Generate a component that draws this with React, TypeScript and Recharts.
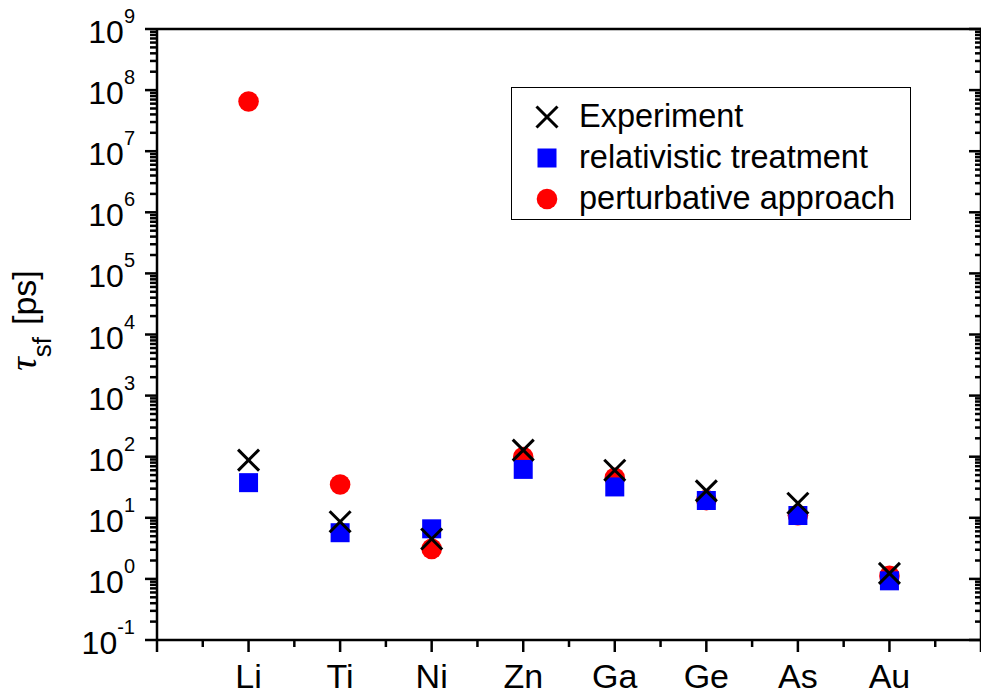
import React from "react";
import {
  ScatterChart,
  Scatter,
  XAxis,
  YAxis,
  Legend,
} from "recharts";

// element positions along x: 1..8
const ELEMENTS = ["Li", "Ti", "Ni", "Zn", "Ga", "Ge", "As", "Au"];
// spin-flip time, ps
const EXPERIMENT = [88, 8.6, 4.5, 128, 60, 27.6, 17.3, 1.23];
const RELATIVISTIC = [37.6, 5.7, 6.6, 62, 32, 19.2, 10.9, 0.93];
const PERTURBATIVE = [6.5e7, 35, 3.1, 99, 45, 19.5, 11, 1.12];

const X_TICKS = [0, 0.5, 1, 1.5, 2, 2.5, 3, 3.5, 4, 4.5, 5, 5.5, 6, 6.5, 7, 7.5, 8, 8.5, 9];
const Y_DECADES = [-1, 0, 1, 2, 3, 4, 5, 6, 7, 8, 9];
const Y_TICKS = Y_DECADES.flatMap((e) =>
  e === 9 ? [1e9] : [1, 2, 3, 4, 5, 6, 7, 8, 9].map((m) => Number((m * Math.pow(10, e)).toPrecision(3)))
);

const FONT = '"Liberation Sans", Arial, sans-serif';
const BLUE = "#0000ff";
const RED = "#ff0000";

const toPoints = (vals: number[]) => vals.map((v, i) => ({ x: i + 1, y: v, name: ELEMENTS[i] }));

const isMajorY = (v: number) => {
  const l = Math.log10(v);
  return Math.abs(l - Math.round(l)) < 1e-6;
};
const isMajorX = (v: number) => Math.abs(v - Math.round(v)) < 1e-6;

function CrossShape(props: any) {
  const { cx, cy } = props;
  const d = 10.5;
  return (
    <g stroke="#000" strokeWidth={3}>
      <line x1={cx - d} y1={cy - d} x2={cx + d} y2={cy + d} />
      <line x1={cx - d} y1={cy + d} x2={cx + d} y2={cy - d} />
    </g>
  );
}

function SquareShape(props: any) {
  const { cx, cy } = props;
  return <rect x={cx - 9.5} y={cy - 9.5} width={19} height={19} fill={BLUE} />;
}

function CircleShape(props: any) {
  const { cx, cy } = props;
  return <circle cx={cx} cy={cy} r={10.3} fill={RED} />;
}

function LeftTick(props: any) {
  const { x, y, payload } = props;
  const major = isMajorY(payload.value);
  const len = major ? 12 : 7;
  return (
    <g>
      <line x1={x} y1={y} x2={x - len} y2={y} stroke="#000" strokeWidth={2.5} />
      {major && (
        <text x={x - 22} y={y + 14} textAnchor="end" fontFamily={FONT} fontSize={32} fill="#000">
          10
          <tspan dy={-20} fontSize={20}>
            {Math.round(Math.log10(payload.value))}
          </tspan>
        </text>
      )}
    </g>
  );
}

function RightTick(props: any) {
  const { x, y, payload } = props;
  const len = isMajorY(payload.value) ? 12 : 6;
  return <line x1={x} y1={y} x2={x - len} y2={y} stroke="#000" strokeWidth={2.5} />;
}

function BottomTick(props: any) {
  const { x, y, payload } = props;
  const major = isMajorX(payload.value);
  const label = major ? ELEMENTS[Math.round(payload.value) - 1] : undefined;
  return (
    <g>
      <line x1={x} y1={y} x2={x} y2={y + (major ? 12 : 7)} stroke="#000" strokeWidth={2.5} />
      {label && (
        <text x={x} y={y + 48} textAnchor="middle" fontFamily={FONT} fontSize={34} fill="#000">
          {label}
        </text>
      )}
    </g>
  );
}

function TopTick(props: any) {
  const { x, y, payload } = props;
  const len = isMajorX(payload.value) ? 13 : 7;
  return <line x1={x} y1={y} x2={x} y2={y + len} stroke="#000" strokeWidth={2.5} />;
}

function YLabel(props: any) {
  const vb = props.viewBox || {};
  const cx = vb.x + 36;
  const cy = vb.y + vb.height / 2 - 14;
  return (
    <text
      x={cx}
      y={cy}
      transform={`rotate(-90, ${cx}, ${cy})`}
      textAnchor="middle"
      fontFamily={FONT}
      fontSize={34}
      fill="#000"
    >
      <tspan fontFamily='"Liberation Serif", serif' fontStyle="italic" fontSize={38}>
        τ
      </tspan>
      <tspan fontSize={26} dy={15}>
        sf
      </tspan>
      <tspan dy={-15} dx={12}>
        [ps]
      </tspan>
    </text>
  );
}

const LEGEND_ITEMS = [
  { label: "Experiment", kind: "cross" },
  { label: "relativistic treatment", kind: "square" },
  { label: "perturbative approach", kind: "circle" },
];

function LegendIcon({ kind }: { kind: string }) {
  return (
    <svg width={26} height={26} style={{ display: "block" }}>
      {kind === "cross" && <CrossShape cx={13} cy={13} />}
      {kind === "square" && <SquareShape cx={13} cy={13} />}
      {kind === "circle" && <CircleShape cx={13} cy={13} />}
    </svg>
  );
}

function LegendBox() {
  return (
    <div
      style={{
        width: 398,
        height: 123,
        border: "1.5px solid #000",
        background: "#fff",
        boxSizing: "content-box",
        paddingTop: 8,
        fontFamily: FONT,
      }}
    >
      {LEGEND_ITEMS.map((it) => (
        <div key={it.label} style={{ display: "flex", alignItems: "center", height: 41 }}>
          <div style={{ width: 64, display: "flex", justifyContent: "center", paddingLeft: 3 }}>
            <LegendIcon kind={it.kind} />
          </div>
          <span style={{ fontSize: 32.5, color: "#000", lineHeight: "41px" }}>{it.label}</span>
        </div>
      ))}
    </div>
  );
}

export default function App() {
  return (
    <div style={{ position: "absolute", left: 0, top: 0, background: "#fff" }}>
      <ScatterChart width={981} height={695} margin={{ top: 29, right: 0, left: 0, bottom: 0 }}>
        <XAxis
          xAxisId="b"
          dataKey="x"
          type="number"
          domain={[0, 9]}
          allowDataOverflow
          ticks={X_TICKS}
          interval={0}
          tickSize={0}
          tickMargin={0}
          tickLine={false}
          tick={<BottomTick />}
          height={55}
          axisLine={{ stroke: "#000", strokeWidth: 2.5 }}
        />
        <XAxis
          xAxisId="t"
          orientation="top"
          mirror
          type="number"
          domain={[0, 9]}
          allowDataOverflow
          ticks={X_TICKS}
          interval={0}
          tickSize={0}
          tickMargin={0}
          tickLine={false}
          tick={<TopTick />}
          height={20}
          axisLine={{ stroke: "#000", strokeWidth: 2.5 }}
        />
        <YAxis
          yAxisId="l"
          dataKey="y"
          type="number"
          scale="log"
          domain={[0.1, 1e9]}
          allowDataOverflow
          ticks={Y_TICKS}
          interval={0}
          tickSize={0}
          tickMargin={0}
          tickLine={false}
          tick={<LeftTick />}
          width={157}
          axisLine={{ stroke: "#000", strokeWidth: 2.5 }}
          label={{ content: <YLabel /> }}
        />
        <YAxis
          yAxisId="r"
          orientation="right"
          mirror
          type="number"
          scale="log"
          domain={[0.1, 1e9]}
          allowDataOverflow
          ticks={Y_TICKS}
          interval={0}
          tickSize={0}
          tickMargin={0}
          tickLine={false}
          tick={<RightTick />}
          width={20}
          axisLine={{ stroke: "#000", strokeWidth: 2.5 }}
        />
        <Legend
          layout="vertical"
          align="center"
          verticalAlign="middle"
          wrapperStyle={{ left: 511, top: 87, width: "auto", height: "auto" }}
          content={() => <LegendBox />}
        />
        <Scatter
          name="perturbative approach"
          data={toPoints(PERTURBATIVE)}
          xAxisId="b"
          yAxisId="l"
          shape={<CircleShape />}
          isAnimationActive={false}
        />
        <Scatter
          name="relativistic treatment"
          data={toPoints(RELATIVISTIC)}
          xAxisId="b"
          yAxisId="l"
          shape={<SquareShape />}
          isAnimationActive={false}
        />
        <Scatter
          name="Experiment"
          data={toPoints(EXPERIMENT)}
          xAxisId="b"
          yAxisId="l"
          shape={<CrossShape />}
          isAnimationActive={false}
        />
      </ScatterChart>
    </div>
  );
}
